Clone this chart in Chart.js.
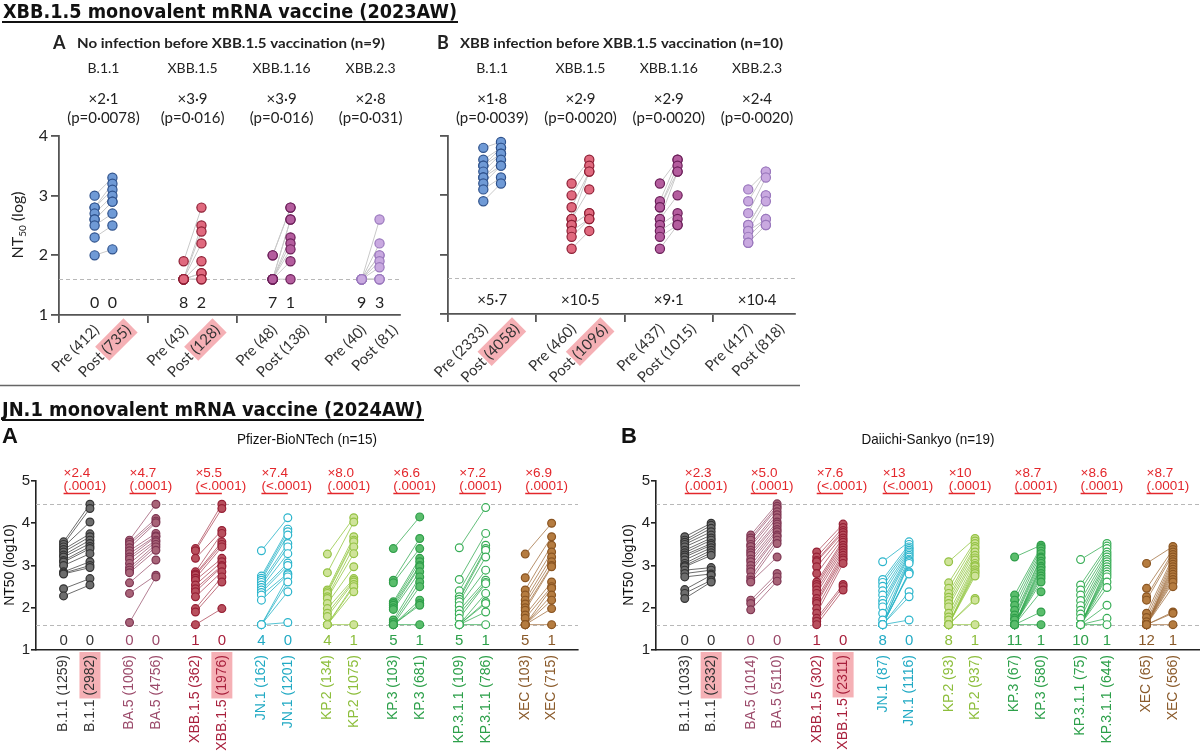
<!DOCTYPE html>
<html lang="en">
<head>
<meta charset="UTF-8">
<title>XBB.1.5 and JN.1 monovalent mRNA vaccine neutralisation</title>
<script src="https://cdn.jsdelivr.net/npm/chart.js"></script>
<style>
  body { margin: 0; background: #fff; width: 1200px; height: 754px; position: relative; overflow: hidden; }
  canvas { position: absolute; }
</style>
</head>
<body>
<canvas id="bg" width="1200" height="754" style="left:0;top:0"></canvas>
<canvas id="topA" width="420" height="355" style="left:0;top:30px"></canvas>
<canvas id="topB" width="385" height="355" style="left:420px;top:30px"></canvas>
<canvas id="jnA" width="600" height="329" style="left:0;top:425px"></canvas>
<canvas id="jnB" width="600" height="329" style="left:600px;top:425px"></canvas>

<script>
// ---- data (log10 NT50, one entry per subject, paired pre/post) ----
const topVariants = ['B.1.1', 'XBB.1.5', 'XBB.1.16', 'XBB.2.3'];

// XBB.1.5 vaccine, no prior infection (n=9)
const topAPre = [
  [3.0, 2.8, 2.8, 2.7, 2.6, 2.6, 2.5, 2.3, 2.0],
  [1.9, 1.6, 1.6, 1.6, 1.6, 1.6, 1.6, 1.6, 1.6],
  [2.0, 2.0, 1.6, 1.6, 1.6, 1.6, 1.6, 1.6, 1.6],
  [1.6, 1.6, 1.6, 1.6, 1.6, 1.6, 1.6, 1.6, 1.6]
];
const topAPost = [
  [3.3, 3.2, 3.1, 3.0, 2.9, 2.9, 2.7, 2.5, 2.1],
  [2.8, 2.5, 2.4, 2.2, 1.9, 1.7, 1.7, 1.6, 1.6],
  [2.8, 2.8, 2.6, 2.6, 2.3, 2.2, 2.1, 1.9, 1.6],
  [2.6, 2.2, 2.0, 2.0, 1.9, 1.8, 1.6, 1.6, 1.6]
];
const topAFold = ['×2·1', '×3·9', '×3·9', '×2·8'];
const topAP = ['(p=0·0078)', '(p=0·016)', '(p=0·016)', '(p=0·031)'];
const topABelow = [[0, 0], [8, 2], [7, 1], [9, 3]];
const topAGM = [[412, 735], [43, 128], [48, 138], [40, 81]];

// XBB.1.5 vaccine, XBB infection before (n=10)
const topBPre = [
  [3.8, 3.6, 3.5, 3.5, 3.4, 3.3, 3.3, 3.2, 3.1, 2.9],
  [3.2, 3.0, 2.8, 2.6, 2.6, 2.5, 2.5, 2.4, 2.3, 2.1],
  [3.2, 2.9, 2.8, 2.8, 2.6, 2.6, 2.5, 2.4, 2.3, 2.1],
  [3.1, 2.9, 2.7, 2.5, 2.5, 2.4, 2.4, 2.3, 2.2, 2.2]
];
const topBPost = [
  [3.9, 3.8, 3.8, 3.7, 3.7, 3.6, 3.5, 3.5, 3.3, 3.2],
  [3.6, 3.5, 3.4, 3.4, 3.1, 2.7, 2.7, 2.6, 2.6, 2.4],
  [3.6, 3.6, 3.5, 3.4, 3.4, 3.0, 2.7, 2.6, 2.5, 2.5],
  [3.4, 3.4, 3.3, 3.0, 3.0, 2.9, 2.6, 2.6, 2.5, 2.5]
];
const topBFold = ['×1·8', '×2·9', '×2·9', '×2·4'];
const topBP = ['(p=0·0039)', '(p=0·0020)', '(p=0·0020)', '(p=0·0020)'];
const topBRatio = ['×5·7', '×10·5', '×9·1', '×10·4'];
const topBGM = [[2333, 4058], [460, 1096], [437, 1015], [417, 818]];
const topMarked = [0, 1];

const jnVariants = ['B.1.1', 'BA.5', 'XBB.1.5', 'JN.1', 'KP.2', 'KP.3', 'KP.3.1.1', 'XEC'];

// JN.1 vaccine, Pfizer-BioNTech (n=15)
const pfPre = [
  [3.56, 3.5, 3.44, 3.38, 3.32, 3.25, 3.2, 3.12, 3.08, 3.0, 2.85, 2.82, 2.8, 2.45, 2.28],
  [3.6, 3.55, 3.5, 3.42, 3.35, 3.28, 3.2, 3.15, 3.05, 2.95, 2.89, 2.83, 2.59, 2.34, 1.65],
  [3.4, 3.35, 3.17, 2.85, 2.8, 2.77, 2.7, 2.65, 2.54, 2.45, 2.38, 2.26, 1.98, 1.9, 1.6],
  [3.35, 2.75, 2.7, 2.65, 2.6, 2.54, 2.48, 2.42, 2.36, 2.3, 2.18, 1.6, 1.6, 1.6, 1.6],
  [3.27, 2.83, 2.42, 2.38, 2.34, 2.26, 2.22, 2.1, 1.98, 1.87, 1.79, 1.6, 1.6, 1.6, 1.6],
  [3.4, 2.65, 2.59, 2.14, 2.1, 2.06, 2.0, 1.96, 1.71, 1.65, 1.6, 1.6, 1.6, 1.6, 1.6],
  [3.42, 2.67, 2.4, 2.26, 2.2, 2.14, 2.05, 1.94, 1.85, 1.75, 1.6, 1.6, 1.6, 1.6, 1.6],
  [3.27, 2.71, 2.42, 2.3, 2.18, 2.09, 2.0, 1.94, 1.83, 1.75, 1.6, 1.6, 1.6, 1.6, 1.6]
];
const pfPost = [
  [4.45, 4.35, 4.03, 3.75, 3.68, 3.6, 3.52, 3.45, 3.4, 3.28, 3.09, 3.0, 2.95, 2.69, 2.54],
  [4.45, 4.11, 4.05, 4.01, 3.76, 3.7, 3.68, 3.6, 3.56, 3.5, 3.44, 3.36, 3.13, 2.77, 2.73],
  [4.45, 4.35, 3.83, 3.76, 3.56, 3.5, 3.44, 3.17, 3.09, 3.0, 2.97, 2.85, 2.73, 2.61, 1.98],
  [4.13, 3.86, 3.8, 3.72, 3.52, 3.44, 3.28, 3.06, 3.0, 2.81, 2.78, 2.73, 2.61, 2.38, 1.65],
  [4.13, 4.03, 3.68, 3.6, 3.56, 3.44, 3.28, 2.97, 2.69, 2.65, 2.61, 2.55, 2.5, 2.38, 1.6],
  [4.15, 3.64, 3.4, 3.17, 3.09, 3.0, 2.97, 2.85, 2.73, 2.61, 2.5, 2.18, 2.1, 2.06, 1.6],
  [4.37, 3.76, 3.48, 3.4, 3.36, 3.2, 2.89, 2.65, 2.6, 2.57, 2.34, 2.14, 2.1, 1.9, 1.6],
  [4.0, 3.68, 3.48, 3.32, 3.2, 3.09, 3.0, 2.97, 2.61, 2.5, 2.46, 2.3, 2.18, 1.98, 1.6]
];
const pfFold = ['×2.4', '×4.7', '×5.5', '×7.4', '×8.0', '×6.6', '×7.2', '×6.9'];
const pfP = ['(.0001)', '(.0001)', '(<.0001)', '(<.0001)', '(.0001)', '(.0001)', '(.0001)', '(.0001)'];
const pfBelow = [[0, 0], [0, 0], [1, 0], [4, 0], [4, 1], [5, 1], [5, 1], [5, 1]];
const pfGM = [[1259, 2982], [1006, 4756], [362, 1976], [162, 1201], [134, 1075], [103, 681], [109, 786], [103, 715]];

// JN.1 vaccine, Daiichi-Sankyo (n=19)
const dsPre = [
  [3.68, 3.6, 3.55, 3.5, 3.44, 3.36, 3.3, 3.25, 3.2, 3.13, 3.05, 3.0, 2.97, 2.89, 2.81, 2.73, 2.43, 2.34, 2.22],
  [3.72, 3.65, 3.6, 3.5, 3.45, 3.36, 3.3, 3.24, 3.15, 3.09, 3.0, 2.92, 2.85, 2.73, 2.65, 2.61, 2.18, 2.1, 1.95],
  [3.32, 3.2, 3.12, 3.09, 2.97, 2.81, 2.61, 2.55, 2.5, 2.42, 2.34, 2.22, 2.15, 2.1, 1.98, 1.87, 1.75, 1.68, 1.6],
  [3.09, 2.67, 2.6, 2.51, 2.4, 2.3, 2.18, 2.1, 2.02, 1.87, 1.71, 1.6, 1.6, 1.6, 1.6, 1.6, 1.6, 1.6, 1.6],
  [3.09, 2.59, 2.46, 2.34, 2.25, 2.18, 2.1, 2.02, 1.87, 1.78, 1.71, 1.6, 1.6, 1.6, 1.6, 1.6, 1.6, 1.6, 1.6],
  [3.2, 2.3, 2.18, 2.06, 1.94, 1.83, 1.75, 1.71, 1.6, 1.6, 1.6, 1.6, 1.6, 1.6, 1.6, 1.6, 1.6, 1.6, 1.6],
  [3.14, 2.54, 2.42, 2.3, 2.17, 2.05, 1.94, 1.85, 1.75, 1.6, 1.6, 1.6, 1.6, 1.6, 1.6, 1.6, 1.6, 1.6, 1.6],
  [3.05, 2.46, 2.26, 2.18, 1.87, 1.77, 1.67, 1.6, 1.6, 1.6, 1.6, 1.6, 1.6, 1.6, 1.6, 1.6, 1.6, 1.6, 1.6]
];
const dsPost = [
  [4.0, 3.95, 3.88, 3.8, 3.72, 3.65, 3.6, 3.52, 3.48, 3.42, 3.36, 3.3, 3.24, 2.95, 2.89, 2.8, 2.77, 2.65, 2.61],
  [4.46, 4.4, 4.35, 4.27, 4.2, 4.13, 4.03, 3.98, 3.92, 3.85, 3.8, 3.72, 3.68, 3.6, 3.52, 3.2, 2.81, 2.73, 2.63],
  [3.98, 3.9, 3.83, 3.78, 3.72, 3.65, 3.6, 3.55, 3.48, 3.42, 3.36, 3.3, 3.24, 3.18, 3.13, 3.05, 2.55, 2.5, 2.42],
  [3.56, 3.5, 3.44, 3.4, 3.36, 3.32, 3.28, 3.24, 3.2, 3.15, 3.12, 3.09, 3.05, 2.85, 2.83, 2.8, 2.38, 2.26, 1.71],
  [3.64, 3.58, 3.52, 3.45, 3.4, 3.32, 3.24, 3.18, 3.13, 3.05, 3.0, 2.97, 2.9, 2.85, 2.81, 2.75, 2.22, 2.18, 1.6],
  [3.48, 3.44, 3.4, 3.34, 3.28, 3.2, 3.17, 3.1, 3.05, 2.98, 2.94, 2.88, 2.81, 2.75, 2.69, 2.61, 2.38, 1.9, 1.6],
  [3.52, 3.46, 3.4, 3.32, 3.26, 3.2, 3.14, 3.09, 3.03, 2.97, 2.91, 2.85, 2.79, 2.73, 2.61, 2.48, 2.06, 1.75, 1.6],
  [3.45, 3.38, 3.32, 3.26, 3.2, 3.14, 3.09, 3.03, 2.97, 2.91, 2.85, 2.79, 2.73, 2.67, 2.61, 2.5, 1.9, 1.87, 1.6]
];
const dsFold = ['×2.3', '×5.0', '×7.6', '×13', '×10', '×8.7', '×8.6', '×8.7'];
const dsP = ['(.0001)', '(.0001)', '(<.0001)', '(<.0001)', '(.0001)', '(.0001)', '(.0001)', '(.0001)'];
const dsBelow = [[0, 0], [0, 0], [1, 0], [8, 0], [8, 1], [11, 1], [10, 1], [12, 1]];
const dsGM = [[1033, 2332], [1014, 5110], [302, 2311], [87, 1116], [93, 937], [67, 580], [75, 644], [65, 566]];
const jnMarked = [0, 2];

const LOD = 1.6;     // detection limit
const ULOQ = 4.46;   // upper limit (JN.1 panels)

// ---- styles ----
const RED = '#e3262b';
const PINK = 'rgba(242,150,156,0.75)';
const topStyles = [
  { fill: '#6f9ad6', edge: '#2f528c', line: '#c9c9c9' },
  { fill: '#e0697e', edge: '#8e1f35', line: '#c9c9c9' },
  { fill: '#b45d9e', edge: '#6b1f59', line: '#c9c9c9' },
  { fill: '#c9a9e0', edge: '#9a78bd', line: '#c9c9c9' }
];
const jnStyles = [
  { fill: '#6d6d6d', edge: '#333333', line: 'rgba(60,60,60,0.75)',   text: '#333333' },
  { fill: '#a86478', edge: '#7e3552', line: 'rgba(140,60,90,0.65)',  text: '#9b4a6a' },
  { fill: '#b8505e', edge: '#962035', line: 'rgba(160,40,60,0.65)',  text: '#a8203c' },
  { fill: '#ffffff', edge: '#2bb5cc', line: 'rgba(40,180,200,0.8)',  text: '#22aac4' },
  { fill: '#cfe39a', edge: '#94c244', line: 'rgba(150,200,70,0.8)',  text: '#8dbe3c' },
  { fill: '#5bbd6c', edge: '#2f9e4a', line: 'rgba(50,170,80,0.75)',  text: '#2da04a' },
  { fill: '#ffffff', edge: '#36ad55', line: 'rgba(50,170,80,0.75)',  text: '#2da04a' },
  { fill: '#b57c40', edge: '#8a5522', line: 'rgba(160,110,60,0.75)', text: '#8a5a2a' }
];
const DX_TOP = 0.1, DX_JN = 0.2;

function fitText(ctx, txt, x, y, w) {
  const m = ctx.measureText(txt).width;
  ctx.save();
  ctx.translate(x, y);
  ctx.scale(w / m, 1);
  ctx.fillText(txt, 0, 0);
  ctx.restore();
}

function drawDashes(c, vals) {
  const ctx = c.ctx, a = c.chartArea;
  ctx.save();
  ctx.strokeStyle = '#b8b8b8';
  ctx.lineWidth = 1;
  ctx.setLineDash([4, 3]);
  vals.forEach(v => {
    const y = Math.round(c.scales.y.getPixelForValue(v)) + 0.5;
    ctx.beginPath(); ctx.moveTo(a.left, y); ctx.lineTo(a.right, y); ctx.stroke();
  });
  ctx.restore();
}

function makeChart(id, o) {
  const datasets = o.pre.map((vals, g) => {
    const s = o.styles[g];
    const data = [];
    vals.forEach((v, i) => {
      data.push({ x: g - o.dx, y: v }, { x: g + o.dx, y: o.post[g][i] }, { x: g, y: null });
    });
    return {
      data, showLine: true, spanGaps: false,
      borderColor: s.line, borderWidth: o.lineW,
      pointRadius: o.radius, pointHoverRadius: o.radius, pointBorderWidth: 1.2,
      pointBackgroundColor: s.fill, pointBorderColor: s.edge
    };
  });
  return new Chart(document.getElementById(id), {
    type: 'scatter',
    data: { datasets },
    options: {
      responsive: false, animation: false, events: [],
      layout: { padding: { left: 0, top: o.padTop, right: o.padRight, bottom: 0 }, autoPadding: false },
      plugins: { legend: { display: false }, tooltip: { enabled: false } },
      scales: {
        x: {
          type: 'linear', min: o.xMin, max: o.xMax,
          afterBuildTicks: s => { s.ticks = o.xTicks.map(v => ({ value: v })); },
          afterFit: s => { s.height = o.xHeight; },
          ticks: { display: false },
          grid: { display: true, drawOnChartArea: false, drawTicks: o.xTickMarks, tickLength: 8,
                  color: o.axisColor, lineWidth: o.axisWidth },
          border: { display: true, color: o.axisColor, width: o.axisWidth }
        },
        y: {
          min: o.yMin, max: o.yMax,
          afterBuildTicks: s => { s.ticks = o.yTicks.map(v => ({ value: v })); },
          afterFit: s => { s.width = o.yWidth; },
          ticks: { display: o.yLabels, font: o.tickFont, color: '#222', padding: o.tickPad },
          grid: { drawOnChartArea: false, tickLength: o.tickLen, color: o.axisColor, lineWidth: o.axisWidth },
          border: { display: true, color: o.axisColor, width: o.axisWidth }
        }
      }
    },
    plugins: [{
      id: 'deco',
      beforeDatasetsDraw: c => drawDashes(c, o.dashed),
      afterDraw: c => o.draw(c)
    }]
  });
}

// ---- top (XBB.1.5 vaccine) panels ----
function drawTopLabels(c, gm) {
  const ctx = c.ctx, xs = c.scales.x, y0 = c.chartArea.bottom + 12.5;
  ctx.save();
  ctx.font = '15px Lato';
  gm.forEach((pair, g) => {
    ['Pre', 'Post'].forEach((word, k) => {
      const x = xs.getPixelForValue(g + (k ? DX_TOP : -DX_TOP)) + (k ? 16 : 2);
      const num = '(' + pair[k] + ')';
      ctx.save();
      ctx.translate(x, y0);
      ctx.rotate(-Math.PI / 4);
      ctx.textAlign = 'right';
      ctx.textBaseline = 'middle';
      const wn = ctx.measureText(num).width;
      if (k === 1 && topMarked.includes(g)) {
        ctx.fillStyle = PINK;
        ctx.fillRect(-wn - 3, -10, wn + 6, 20);
      }
      ctx.fillStyle = '#333';
      ctx.fillText(word + ' ' + num, 0, 0);
      ctx.restore();
    });
  });
  ctx.restore();
}

function drawTopHead(c, P) {
  const ctx = c.ctx, xs = c.scales.x;
  ctx.save();
  ctx.fillStyle = '#222';
  ctx.textBaseline = 'middle';
  ctx.textAlign = 'left';
  ctx.font = 'bold 18px Lato';
  ctx.fillText(P.letter, P.letterX, 13);
  ctx.font = 'bold 14px Lato';
  fitText(ctx, P.heading, P.headX, 13, P.headW);
  ctx.textAlign = 'center';
  topVariants.forEach((v, g) => {
    const x = xs.getPixelForValue(g);
    ctx.font = '14px Lato';
    ctx.fillText(v, x, 38);
    ctx.font = '15px Lato';
    ctx.fillText(P.fold[g], x, 69);
    ctx.fillText(P.p[g], x, 88);
  });
  ctx.restore();
}

makeChart('topA', {
  pre: topAPre, post: topAPost, dx: DX_TOP, styles: topStyles, radius: 4.6, lineW: 1,
  xMin: -0.5, xMax: 3.33, xTicks: [-0.5, 0.5, 1.5, 2.5], xTickMarks: true,
  yMin: 1, yMax: 4, yTicks: [1, 2, 3, 4], yLabels: true,
  padTop: 106, padRight: 20, yWidth: 59, xHeight: 70,
  axisColor: '#555', axisWidth: 1.8, tickFont: { family: 'Lato', size: 16 }, tickPad: 3, tickLen: 8,
  dashed: [LOD],
  draw: c => {
    drawTopHead(c, { letter: 'A', letterX: 53, heading: 'No infection before XBB.1.5 vaccination (n=9)',
                     headX: 77, headW: 308, fold: topAFold, p: topAP });
    const ctx = c.ctx, xs = c.scales.x;
    ctx.save();
    ctx.fillStyle = '#222'; ctx.font = '16px Lato'; ctx.textAlign = 'center'; ctx.textBaseline = 'middle';
    topABelow.forEach((pair, g) => {
      ctx.fillText(pair[0], xs.getPixelForValue(g - DX_TOP), 273);
      ctx.fillText(pair[1], xs.getPixelForValue(g + DX_TOP), 273);
    });
    // y title NT50 (log)
    ctx.translate(17, 195);
    ctx.rotate(-Math.PI / 2);
    ctx.textAlign = 'left'; ctx.textBaseline = 'alphabetic';
    ctx.font = '16px Lato';
    const w1 = ctx.measureText('NT').width, w3 = ctx.measureText(' (log)').width;
    ctx.font = '10px Lato';
    const w2 = ctx.measureText('50').width;
    let x0 = -(w1 + w2 + w3) / 2;
    ctx.font = '16px Lato'; ctx.fillText('NT', x0, 6);
    ctx.font = '10px Lato'; ctx.fillText('50', x0 + w1, 9);
    ctx.font = '16px Lato'; ctx.fillText(' (log)', x0 + w1 + w2, 6);
    ctx.restore();
    drawTopLabels(c, topAGM);
  }
});

makeChart('topB', {
  pre: topBPre, post: topBPost, dx: DX_TOP, styles: topStyles, radius: 4.6, lineW: 1,
  xMin: -0.5, xMax: 3.43, xTicks: [-0.5, 0.5, 1.5, 2.5], xTickMarks: true,
  yMin: 1, yMax: 4, yTicks: [1, 2, 3, 4], yLabels: false,
  padTop: 106, padRight: 10, yWidth: 28, xHeight: 71,
  axisColor: '#555', axisWidth: 1.8, tickFont: { family: 'Lato', size: 16 }, tickPad: 3, tickLen: 8,
  dashed: [LOD],
  draw: c => {
    drawTopHead(c, { letter: 'B', letterX: 17, heading: 'XBB infection before XBB.1.5 vaccination (n=10)',
                     headX: 40, headW: 323, fold: topBFold, p: topBP });
    const ctx = c.ctx, xs = c.scales.x;
    ctx.save();
    ctx.fillStyle = '#222'; ctx.font = '15px Lato'; ctx.textAlign = 'center'; ctx.textBaseline = 'middle';
    topBRatio.forEach((r, g) => ctx.fillText(r, xs.getPixelForValue(g), 270));
    ctx.restore();
    drawTopLabels(c, topBGM);
  }
});

// ---- bottom (JN.1 vaccine) panels ----
function drawJn(c, P) {
  const ctx = c.ctx, xs = c.scales.x;
  ctx.save();
  ctx.textBaseline = 'middle';
  ctx.fillStyle = '#111';
  ctx.textAlign = 'left';
  ctx.font = 'bold 22px "Liberation Sans"';
  ctx.fillText(P.letter, P.letterX, 12);
  ctx.font = '15px "Liberation Sans"';
  fitText(ctx, P.title, P.titleX - P.titleW / 2, 15, P.titleW);

  jnVariants.forEach((v, g) => {
    const xp = xs.getPixelForValue(g - DX_JN), xq = xs.getPixelForValue(g + DX_JN);
    const st = jnStyles[g];
    // fold change and p value
    ctx.fillStyle = RED;
    ctx.textAlign = 'left';
    ctx.font = '13.5px "Liberation Sans"';
    ctx.fillText(P.fold[g], xp, 48);
    ctx.fillText(P.p[g], xp, 61);
    ctx.strokeStyle = RED; ctx.lineWidth = 1.5;
    ctx.beginPath(); ctx.moveTo(xp, 68.5); ctx.lineTo(xq, 68.5); ctx.stroke();
    // counts below detection
    ctx.fillStyle = st.text;
    ctx.textAlign = 'center';
    ctx.font = '15px "Liberation Sans"';
    ctx.fillText(P.below[g][0], xp, 216);
    ctx.fillText(P.below[g][1], xq, 216);
    // vertical labels
    ctx.font = '14px "Liberation Sans"';
    [xp, xq].forEach((x, k) => {
      const num = '(' + P.gm[g][k] + ')';
      ctx.save();
      ctx.translate(x, 230);
      ctx.rotate(-Math.PI / 2);
      ctx.textAlign = 'right';
      ctx.textBaseline = 'middle';
      if (k === 1 && jnMarked.includes(g)) {
        const wn = ctx.measureText(num).width;
        ctx.fillStyle = PINK;
        ctx.fillRect(-wn - 3, -10.5, wn + 6, 21);
      }
      ctx.fillStyle = st.text;
      ctx.fillText(v + ' ' + num, 0, 0);
      ctx.restore();
    });
  });
  // y title
  ctx.fillStyle = '#111';
  ctx.font = '14px "Liberation Sans"';
  ctx.translate(P.yTitleX, 140);
  ctx.rotate(-Math.PI / 2);
  ctx.textAlign = 'center';
  ctx.fillText('NT50 (log10)', 0, 0);
  ctx.restore();
}

const jnCommon = {
  dx: DX_JN, styles: jnStyles, radius: 3.9, lineW: 1,
  xTickMarks: false,
  yMin: 1, yMax: 5, yTicks: [1, 2, 3, 4, 5], yLabels: true,
  padTop: 56, xHeight: 104,
  axisColor: '#222', axisWidth: 1.6, tickFont: { family: 'Liberation Sans', size: 15 }, tickPad: 1, tickLen: 5,
  dashed: [ULOQ, LOD]
};

makeChart('jnA', Object.assign({}, jnCommon, {
  pre: pfPre, post: pfPost,
  xMin: -0.618, xMax: 7.6, xTicks: [-0.618],
  padRight: 22, yWidth: 36,
  draw: c => drawJn(c, { letter: 'A', letterX: 2, title: 'Pfizer-BioNTech (n=15)', titleX: 307, titleW: 140,
                         fold: pfFold, p: pfP, below: pfBelow, gm: pfGM, yTitleX: 10 })
}));

makeChart('jnB', Object.assign({}, jnCommon, {
  pre: dsPre, post: dsPost,
  xMin: -0.636, xMax: 7.61, xTicks: [-0.636],
  padRight: 0, yWidth: 56,
  draw: c => drawJn(c, { letter: 'B', letterX: 21, title: 'Daiichi-Sankyo (n=19)', titleX: 328, titleW: 133,
                         fold: dsFold, p: dsP, below: dsBelow, gm: dsGM, yTitleX: 29 })
}));

// ---- section titles and divider ----
(function () {
  const ctx = document.getElementById('bg').getContext('2d');
  ctx.fillStyle = '#111';
  ctx.strokeStyle = '#111';
  ctx.textBaseline = 'alphabetic';
  ctx.font = 'bold 19px "DejaVu Sans"';
  fitText(ctx, 'XBB.1.5 monovalent mRNA vaccine (2023AW)', 3, 18, 454);
  ctx.lineWidth = 2;
  ctx.beginPath(); ctx.moveTo(2, 22); ctx.lineTo(458, 22); ctx.stroke();
  fitText(ctx, 'JN.1 monovalent mRNA vaccine (2024AW)', 2, 416, 421);
  ctx.beginPath(); ctx.moveTo(2, 420); ctx.lineTo(424, 420); ctx.stroke();
  ctx.strokeStyle = '#666';
  ctx.lineWidth = 1.5;
  ctx.beginPath(); ctx.moveTo(0, 385.5); ctx.lineTo(800, 385.5); ctx.stroke();
})();
</script>
</body>
</html>
